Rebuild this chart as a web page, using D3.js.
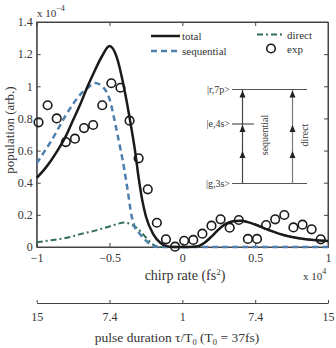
<!DOCTYPE html>
<html><head><meta charset="utf-8">
<script src="https://cdn.jsdelivr.net/npm/d3@7"></script>
<style>
body{margin:0;background:#fff;}
svg text{font-family:"Liberation Serif","Times New Roman",serif;fill:#333;}
</style></head>
<body><svg id="c" width="336" height="348"></svg>
<script>
const totalX = [-1,-0.95,-0.9,-0.85,-0.8,-0.75,-0.7,-0.65,-0.6,-0.55,-0.5,-0.45,-0.4,-0.35,-0.325,-0.3,-0.275,-0.25,-0.2,-0.15,-0.1,-0.05,0,0.05,0.1,0.15,0.2,0.25,0.3,0.35,0.4,0.45,0.5,0.6,0.7,0.8,0.9,1];
const totalY = [0.43,0.48,0.54,0.61,0.69,0.79,0.89,1.0,1.1,1.19,1.25,1.18,0.99,0.74,0.6,0.43,0.29,0.19,0.08,0.025,0.004,0,0,0,0.003,0.025,0.065,0.11,0.145,0.16,0.163,0.155,0.14,0.103,0.073,0.055,0.044,0.038];
const seqX = [-1,-0.95,-0.9,-0.85,-0.8,-0.75,-0.7,-0.65,-0.6,-0.55,-0.5,-0.45,-0.4,-0.375,-0.35,-0.325,-0.3,-0.25,-0.2,-0.15,0,0.5,1];
const seqY = [0.52,0.59,0.66,0.74,0.82,0.89,0.95,0.99,1.02,1.0,0.92,0.72,0.49,0.35,0.2,0.12,0.09,0.04,0.005,0,0,0,0];
const dirX = [-1,-0.9,-0.8,-0.7,-0.6,-0.5,-0.45,-0.4,-0.35,-0.3,-0.25,-0.2,-0.15,-0.05,0.05,0.1,0.15,0.2,0.25,0.3,0.35,0.4,0.45,0.5,0.6,0.7,0.8,0.9,1];
const dirY = [0.03,0.042,0.056,0.08,0.102,0.128,0.142,0.152,0.14,0.11,0.06,0.015,0,0,0,0.003,0.025,0.065,0.11,0.145,0.16,0.163,0.155,0.14,0.103,0.073,0.055,0.044,0.038];
const expX = [-0.9875,-0.925,-0.8625,-0.8,-0.7375,-0.675,-0.6125,-0.55,-0.4875,-0.425,-0.3625,-0.3,-0.2375,-0.175,-0.1125,-0.05,0.0125,0.075,0.1375,0.2,0.2625,0.325,0.3875,0.45,0.5125,0.575,0.6375,0.7,0.7625,0.825,0.8875,0.95];
const expY = [0.776,0.882,0.80,0.653,0.674,0.74,0.759,0.882,1.019,0.991,0.786,0.552,0.359,0.151,0.048,0.002,0.039,0.044,0.083,0.133,0.172,0.12,0.168,0.05,0.05,0.137,0.172,0.199,0.122,0.139,0.11,0.048];
const xTicks = [-1,-0.5,0,0.5,1];
const xTickLabels = ["\u22121","\u22120.5","0","0.5","1"];
const yTicks = [0,0.2,0.4,0.6,0.8,1,1.2,1.4];
const yTickLabels = ["0","0.2","0.4","0.6","0.8","1","1.2","1.4"];
const pulseLabels = ["15","7.4","1","7.4","15"];

const svg = d3.select("#c");
const x = d3.scaleLinear().domain([-1,1]).range([36.7,328]);
const y = d3.scaleLinear().domain([0,1.4]).range([247,22]);
const axisCol = "#444";

// frame
svg.append("rect").attr("x",x(-1)).attr("y",y(1.4)).attr("width",x(1)-x(-1)).attr("height",y(0)-y(1.4))
  .attr("fill","none").attr("stroke",axisCol).attr("stroke-width",1);

// axes
const gx = svg.append("g").attr("transform",`translate(0,${y(0)})`)
  .call(d3.axisBottom(x).tickValues(xTicks).tickFormat((d,i)=>xTickLabels[i]).tickSizeInner(-4).tickSizeOuter(0).tickPadding(6));
const gxt = svg.append("g").attr("transform",`translate(0,${y(1.4)})`)
  .call(d3.axisTop(x).tickValues(xTicks).tickFormat("").tickSizeInner(-4).tickSizeOuter(0));
const gy = svg.append("g").attr("transform",`translate(${x(-1)},0)`)
  .call(d3.axisLeft(y).tickValues(yTicks).tickFormat((d,i)=>yTickLabels[i]).tickSizeInner(-4).tickSizeOuter(0).tickPadding(4));
const gyr = svg.append("g").attr("transform",`translate(${x(1)},0)`)
  .call(d3.axisRight(y).tickValues(yTicks).tickFormat("").tickSizeInner(-4).tickSizeOuter(0));
[gx,gxt,gy,gyr].forEach(g=>{
  g.select(".domain").attr("stroke",axisCol);
  g.selectAll(".tick line").attr("stroke",axisCol);
  g.selectAll("text").attr("font-family","Liberation Serif, serif").attr("font-size",12).attr("fill","#333");
});

// curves
const line = d3.line().x(d=>x(d[0])).y(d=>y(d[1])).curve(d3.curveMonotoneX);
const plot = svg.append("g");
plot.append("path").datum(dirX.map((v,i)=>[v,dirY[i]])).attr("d",line)
  .attr("fill","none").attr("stroke","#2f6e52").attr("stroke-width",2).attr("stroke-dasharray","6,3,2,3");
plot.append("path").datum(seqX.map((v,i)=>[v,seqY[i]])).attr("d",line)
  .attr("fill","none").attr("stroke","#4f7fad").attr("stroke-width",2.5).attr("stroke-dasharray","6,4");
plot.append("path").datum(totalX.map((v,i)=>[v,totalY[i]])).attr("d",line)
  .attr("fill","none").attr("stroke","#1a1a1a").attr("stroke-width",2.5);
plot.selectAll("circle.exp").data(expX.map((v,i)=>[v,expY[i]])).enter().append("circle")
  .attr("cx",d=>x(d[0])).attr("cy",d=>y(d[1])).attr("r",4.3)
  .attr("fill","none").attr("stroke","#1a1a1a").attr("stroke-width",1.6);

// exponent labels
const t1 = svg.append("text").attr("x",37).attr("y",17).attr("font-size",11);
t1.append("tspan").text("x 10");
t1.append("tspan").attr("dy",-6).attr("font-size",8).text("\u22124");
const t2 = svg.append("text").attr("x",303).attr("y",280).attr("font-size",11);
t2.append("tspan").text("x 10");
t2.append("tspan").attr("dy",-6).attr("font-size",8).text("4");

// axis titles
svg.append("text").attr("transform","translate(14,130) rotate(-90)").attr("text-anchor","middle")
  .attr("font-size",13).text("population (arb.)");
const xt = svg.append("text").attr("x",185).attr("y",280).attr("text-anchor","middle").attr("font-size",14);
xt.append("tspan").text("chirp rate (fs");
xt.append("tspan").attr("dy",-5).attr("font-size",9).text("2");
xt.append("tspan").attr("dy",5).text(")");

// pulse duration axis
const x2 = d3.scaleLinear().domain([-1,1]).range([36.7,328]);
const g2 = svg.append("g").attr("transform","translate(0,303)")
  .call(d3.axisBottom(x2).tickValues(xTicks).tickFormat((d,i)=>pulseLabels[i]).tickSizeInner(-3).tickSizeOuter(0).tickPadding(9));
g2.select(".domain").attr("stroke",axisCol);
g2.selectAll(".tick line").attr("stroke",axisCol);
g2.selectAll("text").attr("font-family","Liberation Serif, serif").attr("font-size",12).attr("fill","#333");
const pt = svg.append("text").attr("x",177).attr("y",342).attr("text-anchor","middle").attr("font-size",13.5);
pt.append("tspan").text("pulse duration  \u03c4/T");
pt.append("tspan").attr("dy",2.5).attr("font-size",8.5).text("0");
pt.append("tspan").attr("dy",-2.5).text(" (T");
pt.append("tspan").attr("dy",2.5).attr("font-size",8.5).text("0");
pt.append("tspan").attr("dy",-2.5).text(" = 37fs)");

// legend
const lg = svg.append("g");
lg.append("line").attr("x1",151).attr("x2",180).attr("y1",36).attr("y2",36).attr("stroke","#1a1a1a").attr("stroke-width",2.5);
lg.append("text").attr("x",182).attr("y",40).attr("font-size",11).text("total");
lg.append("line").attr("x1",151).attr("x2",180).attr("y1",51).attr("y2",51).attr("stroke","#4f7fad").attr("stroke-width",2.5).attr("stroke-dasharray","6,4");
lg.append("text").attr("x",182).attr("y",55).attr("font-size",11).text("sequential");
lg.append("line").attr("x1",257).attr("x2",284).attr("y1",34.5).attr("y2",34.5).attr("stroke","#2f6e52").attr("stroke-width",2).attr("stroke-dasharray","6,3,2,3");
lg.append("text").attr("x",287).attr("y",38.5).attr("font-size",11).text("direct");
lg.append("circle").attr("cx",271).attr("cy",48.5).attr("r",4.3).attr("fill","none").attr("stroke","#1a1a1a").attr("stroke-width",1.6);
lg.append("text").attr("x",287).attr("y",53).attr("font-size",11).text("exp");

// energy level diagram
const dg = svg.append("g");
const lvl = "#555";
dg.append("line").attr("x1",232).attr("x2",307).attr("y1",89.5).attr("y2",89.5).attr("stroke",lvl).attr("stroke-width",1.2);
dg.append("line").attr("x1",232).attr("x2",254).attr("y1",124).attr("y2",124).attr("stroke",lvl).attr("stroke-width",1.2);
dg.append("line").attr("x1",232).attr("x2",307).attr("y1",183.5).attr("y2",183.5).attr("stroke",lvl).attr("stroke-width",1.2);
dg.append("text").attr("x",230).attr("y",92.5).attr("text-anchor","end").attr("font-size",10).text("|r,7p>");
dg.append("text").attr("x",230).attr("y",127).attr("text-anchor","end").attr("font-size",10).text("|e,4s>");
dg.append("text").attr("x",230).attr("y",187).attr("text-anchor","end").attr("font-size",10).text("|g,3s>");
function arrowLine(ax, col){
  dg.append("line").attr("x1",ax).attr("x2",ax).attr("y1",183.5).attr("y2",90).attr("stroke",col).attr("stroke-width",1.2);
  [90.5,125,151].forEach(tip=>{
    dg.append("path").attr("d",`M${ax},${tip} L${ax-3},${tip+7} L${ax+3},${tip+7} Z`).attr("fill","#222");
  });
}
arrowLine(242.5,"#444");
arrowLine(292.5,"#777");
dg.append("text").attr("transform","translate(268,135) rotate(-90)").attr("text-anchor","middle").attr("font-size",10).text("sequential");
dg.append("text").attr("transform","translate(308,135) rotate(-90)").attr("text-anchor","middle").attr("font-size",10).text("direct");
</script></body></html>
